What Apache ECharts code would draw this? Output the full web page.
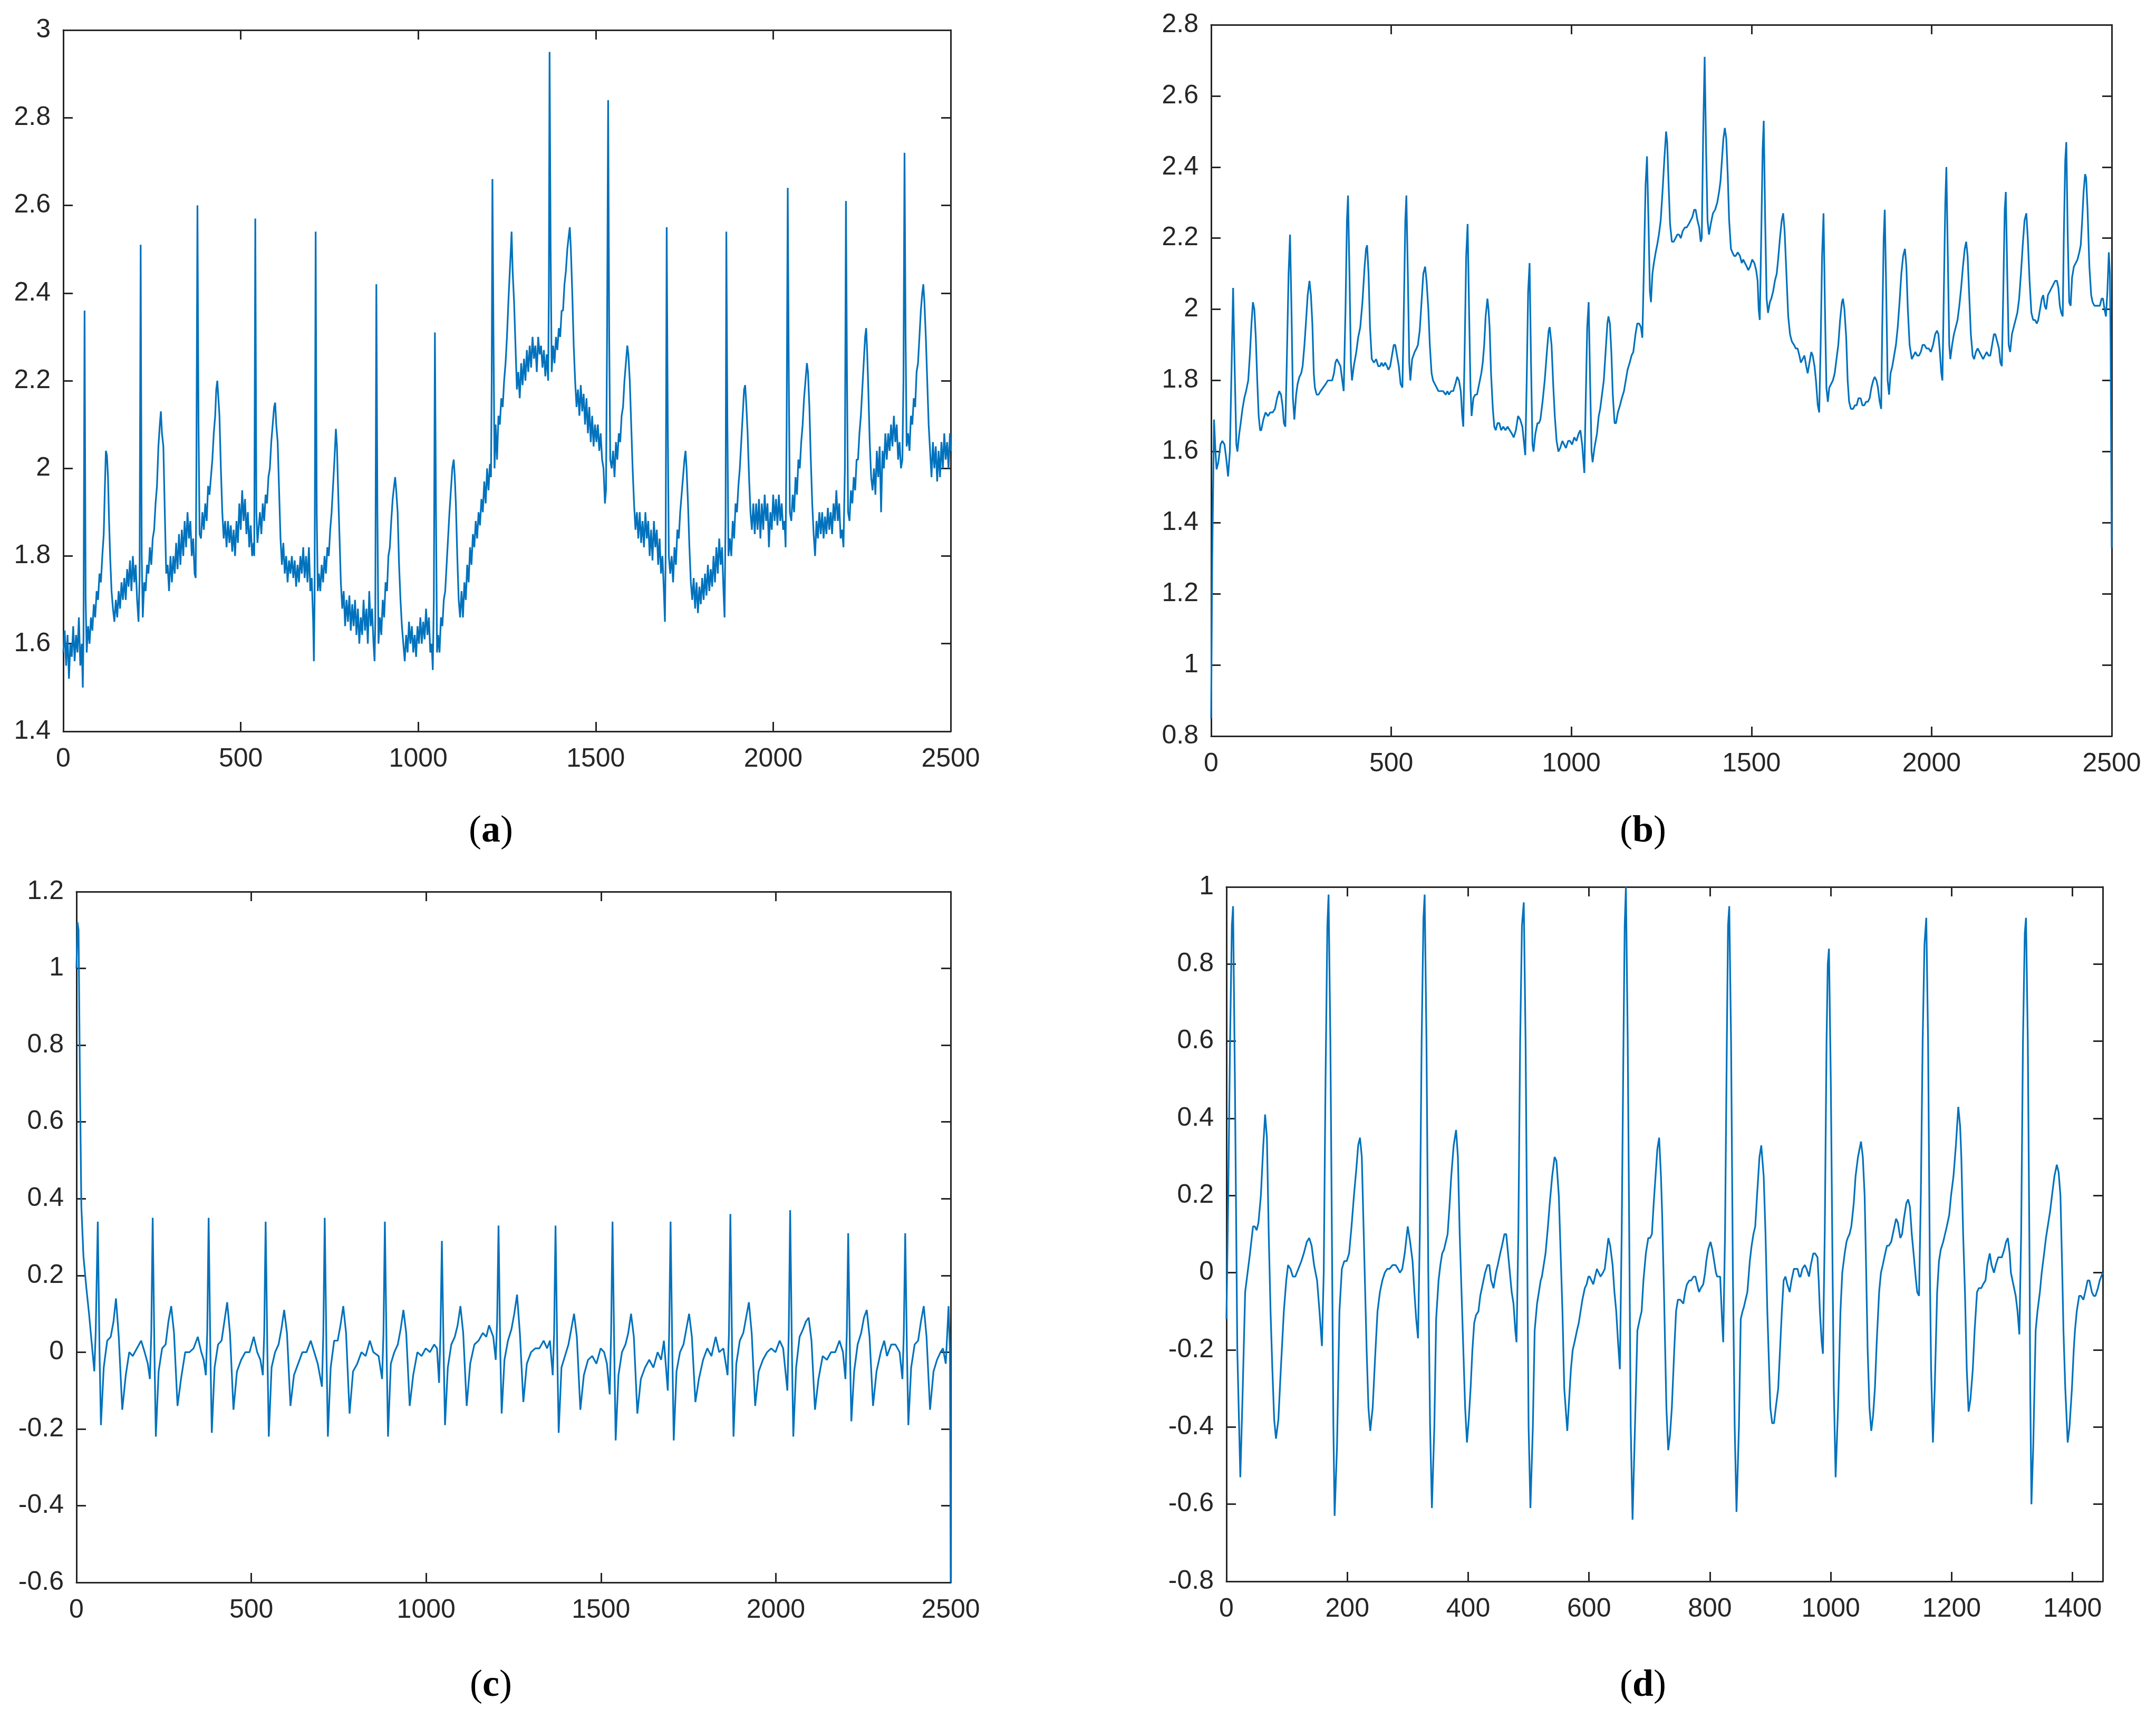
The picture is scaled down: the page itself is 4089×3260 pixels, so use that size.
<!DOCTYPE html>
<html><head><meta charset="utf-8">
<script src="https://cdn.jsdelivr.net/npm/echarts@6/dist/echarts.min.js"></script>
<style>html,body{margin:0;padding:0;background:#fff}#c{width:4089px;height:3260px}</style>
</head><body><div id="c"></div>
<script>
// ---- Data ----
// Panel (a): raw noisy signal [sample, value]
const SERIES_A = [[0,1.58],[4,1.63],[8,1.55],[12,1.62],[16,1.52],[20,1.6],[24,1.57],[28,1.64],[32,1.56],[36,1.62],[40,1.58],[44,1.66],[48,1.55],[52,1.6],[55,1.5],[57,1.62],[60,2.36],[63,1.7],[66,1.58],[70,1.64],[74,1.6],[78,1.66],[82,1.63],[86,1.69],[90,1.66],[94,1.72],[98,1.7],[102,1.76],[106,1.74],[110,1.8],[114,1.85],[117,1.95],[120,2.04],[123,2.03],[126,1.98],[129,1.88],[132,1.8],[136,1.72],[140,1.68],[144,1.65],[148,1.7],[152,1.66],[156,1.72],[160,1.68],[164,1.74],[168,1.7],[172,1.75],[176,1.7],[180,1.77],[184,1.73],[188,1.79],[192,1.72],[196,1.8],[200,1.74],[204,1.78],[208,1.7],[212,1.65],[215,1.75],[218,2.51],[221,1.8],[224,1.66],[228,1.74],[232,1.72],[236,1.78],[240,1.76],[244,1.82],[248,1.78],[252,1.84],[256,1.86],[260,1.92],[264,1.96],[268,2.05],[272,2.1],[275,2.13],[278,2.08],[282,2.05],[286,1.9],[290,1.76],[294,1.78],[298,1.72],[302,1.8],[306,1.74],[310,1.8],[314,1.76],[318,1.83],[322,1.77],[326,1.85],[330,1.78],[334,1.86],[338,1.8],[342,1.88],[346,1.82],[350,1.9],[354,1.84],[358,1.88],[362,1.8],[366,1.84],[370,1.76],[373,1.75],[375,2.0],[378,2.6],[381,2.1],[384,1.85],[388,1.84],[392,1.9],[396,1.86],[400,1.92],[404,1.88],[408,1.96],[412,1.94],[416,1.98],[420,2.02],[424,2.08],[428,2.12],[431,2.18],[434,2.2],[437,2.16],[440,2.12],[444,2.0],[448,1.9],[452,1.84],[456,1.88],[460,1.82],[464,1.88],[468,1.83],[472,1.87],[476,1.81],[480,1.86],[484,1.8],[488,1.88],[492,1.83],[496,1.92],[500,1.86],[504,1.95],[508,1.88],[512,1.93],[516,1.85],[520,1.9],[524,1.82],[528,1.87],[532,1.8],[536,1.83],[538,1.8],[541,2.57],[544,1.9],[547,1.83],[550,1.86],[554,1.9],[558,1.85],[562,1.92],[566,1.88],[570,1.94],[574,1.92],[578,1.98],[582,2.0],[586,2.06],[590,2.1],[594,2.14],[597,2.15],[600,2.1],[604,2.06],[608,1.95],[612,1.84],[616,1.78],[620,1.83],[624,1.76],[628,1.8],[632,1.74],[636,1.79],[640,1.76],[644,1.8],[648,1.75],[652,1.79],[656,1.73],[660,1.78],[664,1.74],[668,1.8],[672,1.76],[676,1.82],[680,1.75],[684,1.8],[688,1.74],[692,1.82],[696,1.72],[700,1.75],[704,1.65],[706,1.56],[708,1.7],[711,2.54],[714,1.9],[717,1.72],[720,1.76],[724,1.72],[728,1.78],[732,1.74],[736,1.8],[740,1.76],[744,1.82],[748,1.8],[752,1.86],[756,1.9],[760,1.96],[764,2.02],[768,2.09],[771,2.05],[774,1.96],[778,1.85],[782,1.74],[786,1.68],[790,1.72],[794,1.64],[798,1.7],[802,1.65],[806,1.71],[810,1.63],[814,1.69],[818,1.64],[822,1.7],[826,1.62],[830,1.68],[834,1.6],[838,1.66],[842,1.62],[846,1.7],[850,1.63],[854,1.68],[858,1.6],[862,1.72],[866,1.64],[870,1.68],[874,1.6],[877,1.56],[879,1.65],[882,2.42],[885,1.9],[888,1.6],[892,1.66],[896,1.62],[900,1.7],[904,1.66],[908,1.74],[912,1.72],[916,1.8],[920,1.82],[924,1.88],[928,1.93],[932,1.96],[935,1.98],[938,1.95],[942,1.9],[946,1.78],[950,1.7],[954,1.64],[958,1.6],[962,1.56],[966,1.62],[970,1.58],[974,1.65],[978,1.6],[982,1.64],[986,1.58],[990,1.62],[994,1.57],[998,1.64],[1002,1.6],[1006,1.66],[1010,1.6],[1014,1.65],[1018,1.61],[1022,1.68],[1026,1.62],[1030,1.66],[1034,1.58],[1038,1.6],[1041,1.54],[1044,1.7],[1047,2.31],[1050,1.9],[1053,1.58],[1056,1.62],[1060,1.58],[1064,1.66],[1068,1.64],[1072,1.7],[1076,1.72],[1080,1.78],[1084,1.84],[1088,1.9],[1092,1.95],[1096,2.0],[1100,2.02],[1103,1.98],[1106,1.92],[1110,1.8],[1114,1.7],[1118,1.66],[1122,1.72],[1126,1.66],[1130,1.74],[1134,1.7],[1138,1.78],[1142,1.74],[1146,1.82],[1150,1.78],[1154,1.85],[1158,1.82],[1162,1.88],[1166,1.84],[1170,1.9],[1174,1.87],[1178,1.93],[1182,1.9],[1186,1.97],[1190,1.92],[1194,2.0],[1198,1.95],[1202,2.01],[1205,1.98],[1207,2.2],[1209,2.66],[1212,2.3],[1215,2.0],[1218,2.1],[1222,2.02],[1226,2.12],[1230,2.1],[1234,2.16],[1238,2.14],[1242,2.2],[1246,2.24],[1250,2.3],[1254,2.38],[1258,2.45],[1261,2.5],[1263,2.54],[1266,2.45],[1270,2.38],[1274,2.28],[1278,2.18],[1282,2.22],[1286,2.16],[1290,2.24],[1294,2.19],[1298,2.25],[1302,2.2],[1306,2.27],[1310,2.22],[1314,2.28],[1318,2.23],[1322,2.3],[1326,2.25],[1330,2.28],[1334,2.22],[1338,2.3],[1342,2.26],[1346,2.28],[1350,2.23],[1354,2.27],[1358,2.21],[1362,2.26],[1366,2.2],[1368,2.4],[1370,2.95],[1373,2.5],[1376,2.22],[1380,2.28],[1384,2.24],[1388,2.3],[1392,2.27],[1396,2.32],[1400,2.3],[1404,2.36],[1408,2.36],[1412,2.42],[1416,2.45],[1420,2.5],[1424,2.53],[1427,2.55],[1430,2.5],[1434,2.4],[1438,2.28],[1442,2.2],[1446,2.14],[1450,2.18],[1454,2.12],[1458,2.19],[1462,2.13],[1466,2.17],[1470,2.1],[1474,2.16],[1478,2.08],[1482,2.14],[1486,2.06],[1490,2.12],[1494,2.05],[1498,2.1],[1502,2.06],[1506,2.1],[1510,2.04],[1514,2.08],[1518,2.02],[1522,2.0],[1526,1.92],[1529,1.95],[1532,2.3],[1535,2.84],[1538,2.3],[1541,2.02],[1545,2.0],[1549,2.04],[1553,1.98],[1557,2.06],[1561,2.02],[1565,2.08],[1569,2.06],[1573,2.12],[1577,2.14],[1581,2.2],[1585,2.24],[1589,2.28],[1592,2.26],[1596,2.2],[1600,2.1],[1604,2.0],[1608,1.92],[1612,1.86],[1616,1.9],[1620,1.84],[1624,1.9],[1628,1.83],[1632,1.88],[1636,1.82],[1640,1.9],[1644,1.84],[1648,1.88],[1652,1.8],[1656,1.86],[1660,1.79],[1664,1.88],[1668,1.82],[1672,1.86],[1676,1.78],[1680,1.84],[1684,1.76],[1688,1.8],[1692,1.72],[1695,1.65],[1697,1.8],[1700,2.55],[1703,2.1],[1706,1.8],[1710,1.76],[1714,1.8],[1718,1.74],[1722,1.82],[1726,1.78],[1730,1.86],[1734,1.84],[1738,1.9],[1742,1.94],[1746,1.98],[1750,2.02],[1753,2.04],[1756,2.0],[1760,1.92],[1764,1.82],[1768,1.74],[1772,1.7],[1776,1.75],[1780,1.68],[1784,1.74],[1788,1.67],[1792,1.73],[1796,1.69],[1800,1.75],[1804,1.7],[1808,1.76],[1812,1.71],[1816,1.78],[1820,1.72],[1824,1.77],[1828,1.73],[1832,1.8],[1836,1.74],[1840,1.82],[1844,1.76],[1848,1.84],[1852,1.78],[1856,1.82],[1860,1.72],[1863,1.66],[1866,1.9],[1868,2.54],[1871,2.1],[1874,1.8],[1878,1.84],[1882,1.8],[1886,1.88],[1890,1.84],[1894,1.92],[1898,1.9],[1902,1.96],[1906,2.0],[1910,2.06],[1914,2.12],[1918,2.18],[1921,2.19],[1924,2.15],[1928,2.08],[1932,1.98],[1936,1.9],[1940,1.86],[1944,1.92],[1948,1.85],[1952,1.92],[1956,1.86],[1960,1.93],[1964,1.84],[1968,1.92],[1972,1.86],[1976,1.94],[1980,1.88],[1984,1.92],[1988,1.82],[1992,1.9],[1996,1.86],[2000,1.94],[2004,1.88],[2008,1.93],[2012,1.87],[2016,1.94],[2020,1.88],[2024,1.92],[2028,1.86],[2032,1.88],[2035,1.82],[2038,2.1],[2041,2.64],[2044,2.2],[2047,1.9],[2051,1.88],[2055,1.94],[2059,1.9],[2063,1.98],[2067,1.94],[2071,2.02],[2075,2.0],[2079,2.06],[2083,2.1],[2087,2.16],[2091,2.2],[2095,2.24],[2098,2.22],[2102,2.14],[2106,2.02],[2110,1.92],[2114,1.85],[2118,1.8],[2122,1.88],[2126,1.84],[2130,1.9],[2134,1.85],[2138,1.9],[2142,1.84],[2146,1.89],[2150,1.85],[2154,1.91],[2158,1.86],[2162,1.9],[2166,1.85],[2170,1.92],[2174,1.88],[2178,1.95],[2182,1.88],[2186,1.92],[2190,1.84],[2194,1.86],[2198,1.82],[2202,2.0],[2205,2.61],[2208,2.2],[2211,1.9],[2215,1.88],[2219,1.95],[2223,1.92],[2227,1.98],[2231,1.95],[2235,2.02],[2239,2.02],[2243,2.08],[2247,2.12],[2251,2.18],[2255,2.24],[2259,2.3],[2262,2.32],[2265,2.26],[2268,2.18],[2272,2.06],[2276,1.98],[2280,1.95],[2284,2.0],[2288,1.94],[2292,2.04],[2296,1.98],[2300,2.05],[2304,1.9],[2308,2.04],[2312,2.0],[2316,2.08],[2320,2.02],[2324,2.08],[2328,2.04],[2332,2.1],[2336,2.05],[2340,2.12],[2344,2.06],[2348,2.1],[2352,2.02],[2356,2.06],[2360,2.0],[2364,2.02],[2367,2.2],[2370,2.72],[2373,2.3],[2376,2.05],[2380,2.08],[2384,2.04],[2388,2.12],[2392,2.1],[2396,2.16],[2400,2.14],[2404,2.22],[2408,2.24],[2412,2.3],[2416,2.36],[2420,2.4],[2423,2.42],[2426,2.38],[2430,2.3],[2434,2.2],[2438,2.1],[2442,2.04],[2446,1.98],[2450,2.06],[2454,2.0],[2458,2.05],[2462,1.97],[2466,2.04],[2470,1.98],[2474,2.06],[2478,2.0],[2482,2.08],[2486,2.02],[2490,2.06],[2494,2.0],[2498,2.08],[2500,2.04]];

// Panel (b): filtered signal
const SERIES_B = [[0,0.85],[3,1.3],[8,1.69],[12,1.6],[15,1.55],[20,1.57],[26,1.62],[31,1.63],[37,1.62],[42,1.58],[47,1.53],[52,1.6],[57,1.85],[61,2.06],[65,1.85],[70,1.62],[73,1.6],[78,1.65],[82,1.68],[87,1.72],[92,1.75],[97,1.77],[103,1.8],[108,1.88],[112,1.96],[116,2.02],[120,2.0],[124,1.92],[128,1.8],[132,1.7],[136,1.66],[139,1.66],[145,1.69],[151,1.71],[158,1.7],[164,1.71],[171,1.71],[177,1.72],[183,1.75],[189,1.77],[194,1.76],[198,1.73],[202,1.68],[206,1.67],[210,1.85],[215,2.1],[219,2.21],[223,2.0],[227,1.75],[231,1.69],[236,1.76],[240,1.79],[245,1.81],[250,1.82],[254,1.84],[259,1.9],[263,1.96],[268,2.04],[273,2.08],[277,2.04],[281,1.96],[285,1.82],[288,1.78],[293,1.76],[298,1.76],[304,1.77],[311,1.78],[318,1.79],[324,1.8],[330,1.8],[336,1.8],[341,1.82],[345,1.85],[349,1.86],[354,1.85],[359,1.84],[364,1.8],[368,1.77],[373,2.0],[377,2.25],[380,2.32],[384,2.1],[388,1.85],[391,1.8],[396,1.84],[403,1.88],[408,1.92],[414,1.95],[420,2.02],[426,2.12],[430,2.17],[433,2.18],[437,2.1],[441,1.95],[446,1.86],[452,1.85],[458,1.86],[464,1.84],[469,1.84],[473,1.85],[478,1.84],[483,1.85],[488,1.84],[492,1.83],[497,1.84],[502,1.87],[507,1.9],[511,1.9],[516,1.87],[521,1.84],[526,1.79],[531,1.78],[535,2.0],[539,2.25],[542,2.32],[546,2.1],[550,1.85],[553,1.8],[558,1.86],[565,1.88],[570,1.89],[574,1.9],[579,1.94],[584,2.02],[589,2.1],[594,2.12],[598,2.08],[603,2.0],[607,1.9],[612,1.82],[616,1.8],[621,1.79],[626,1.78],[631,1.77],[637,1.77],[644,1.77],[651,1.76],[656,1.77],[660,1.76],[666,1.77],[672,1.77],[678,1.79],[683,1.81],[688,1.8],[693,1.77],[697,1.7],[700,1.67],[704,1.9],[708,2.15],[712,2.24],[716,2.0],[720,1.78],[723,1.7],[728,1.75],[733,1.76],[738,1.76],[742,1.78],[746,1.8],[750,1.82],[754,1.85],[758,1.9],[762,1.98],[767,2.03],[770,2.0],[773,1.95],[777,1.82],[782,1.72],[786,1.67],[790,1.66],[795,1.68],[800,1.68],[805,1.66],[811,1.67],[817,1.66],[823,1.67],[829,1.66],[835,1.65],[840,1.64],[846,1.66],[852,1.7],[858,1.69],[864,1.67],[868,1.63],[872,1.59],[876,1.8],[880,2.05],[884,2.13],[888,1.85],[892,1.62],[895,1.6],[900,1.65],[906,1.68],[910,1.68],[914,1.69],[920,1.74],[926,1.8],[932,1.88],[937,1.94],[940,1.95],[945,1.9],[950,1.78],[954,1.7],[959,1.63],[964,1.6],[969,1.61],[975,1.63],[980,1.62],[985,1.61],[991,1.63],[996,1.63],[1002,1.62],[1008,1.64],[1014,1.63],[1020,1.65],[1025,1.66],[1030,1.62],[1033,1.58],[1036,1.54],[1040,1.75],[1044,1.95],[1048,2.02],[1052,1.8],[1056,1.6],[1059,1.57],[1064,1.61],[1071,1.65],[1076,1.7],[1080,1.72],[1085,1.76],[1090,1.8],[1095,1.88],[1100,1.96],[1103,1.98],[1107,1.96],[1111,1.88],[1115,1.76],[1120,1.68],[1124,1.68],[1129,1.71],[1135,1.73],[1140,1.75],[1146,1.77],[1151,1.8],[1156,1.83],[1162,1.85],[1167,1.87],[1172,1.88],[1178,1.93],[1183,1.96],[1188,1.96],[1193,1.95],[1197,1.92],[1201,2.1],[1206,2.35],[1210,2.43],[1214,2.25],[1218,2.05],[1221,2.02],[1225,2.1],[1229,2.13],[1234,2.16],[1238,2.18],[1243,2.21],[1248,2.25],[1253,2.33],[1258,2.42],[1263,2.5],[1266,2.47],[1270,2.35],[1274,2.24],[1279,2.19],[1284,2.19],[1289,2.2],[1294,2.21],[1299,2.21],[1304,2.2],[1309,2.22],[1315,2.23],[1320,2.23],[1326,2.24],[1331,2.25],[1336,2.26],[1341,2.28],[1345,2.28],[1350,2.25],[1355,2.23],[1359,2.19],[1362,2.2],[1366,2.5],[1370,2.71],[1374,2.45],[1378,2.25],[1382,2.21],[1387,2.24],[1393,2.27],[1399,2.28],[1405,2.3],[1410,2.33],[1414,2.36],[1418,2.42],[1422,2.48],[1426,2.51],[1430,2.48],[1434,2.38],[1438,2.25],[1443,2.17],[1447,2.16],[1452,2.15],[1456,2.15],[1462,2.16],[1468,2.15],[1473,2.13],[1477,2.14],[1482,2.13],[1487,2.12],[1491,2.11],[1496,2.12],[1502,2.14],[1508,2.13],[1513,2.11],[1517,2.08],[1520,2.0],[1523,1.97],[1527,2.2],[1531,2.45],[1534,2.53],[1538,2.25],[1542,2.03],[1546,1.99],[1551,2.02],[1555,2.03],[1560,2.05],[1565,2.08],[1570,2.1],[1574,2.14],[1579,2.2],[1584,2.25],[1588,2.27],[1592,2.22],[1597,2.1],[1602,1.98],[1607,1.93],[1612,1.91],[1618,1.9],[1623,1.89],[1628,1.89],[1633,1.87],[1637,1.85],[1642,1.86],[1647,1.87],[1652,1.84],[1656,1.82],[1661,1.85],[1666,1.88],[1670,1.87],[1675,1.84],[1679,1.8],[1684,1.73],[1688,1.71],[1692,1.9],[1696,2.15],[1700,2.27],[1704,2.0],[1708,1.78],[1712,1.74],[1716,1.78],[1721,1.79],[1726,1.8],[1731,1.82],[1736,1.86],[1741,1.9],[1746,1.97],[1751,2.02],[1754,2.03],[1758,2.0],[1763,1.92],[1767,1.8],[1771,1.74],[1776,1.72],[1782,1.72],[1787,1.73],[1792,1.73],[1797,1.75],[1803,1.75],[1808,1.73],[1813,1.73],[1818,1.74],[1823,1.74],[1828,1.75],[1833,1.78],[1838,1.8],[1842,1.81],[1847,1.8],[1851,1.78],[1856,1.74],[1860,1.72],[1863,1.95],[1867,2.2],[1870,2.28],[1874,2.05],[1878,1.8],[1882,1.76],[1886,1.82],[1891,1.84],[1896,1.87],[1901,1.9],[1906,1.95],[1911,2.02],[1916,2.1],[1921,2.15],[1926,2.17],[1930,2.12],[1934,2.0],[1939,1.9],[1945,1.86],[1950,1.87],[1955,1.88],[1960,1.87],[1965,1.87],[1970,1.88],[1975,1.9],[1980,1.9],[1986,1.89],[1992,1.89],[1998,1.88],[2004,1.9],[2010,1.93],[2015,1.94],[2019,1.93],[2023,1.88],[2027,1.82],[2030,1.8],[2034,2.05],[2038,2.3],[2041,2.4],[2045,2.15],[2049,1.9],[2052,1.86],[2057,1.9],[2062,1.93],[2067,1.95],[2072,1.97],[2077,2.01],[2082,2.06],[2087,2.12],[2092,2.17],[2096,2.19],[2100,2.15],[2104,2.05],[2109,1.93],[2114,1.87],[2118,1.86],[2123,1.88],[2128,1.89],[2133,1.88],[2138,1.87],[2143,1.86],[2148,1.87],[2153,1.88],[2158,1.87],[2163,1.87],[2168,1.9],[2173,1.93],[2177,1.93],[2182,1.91],[2187,1.89],[2191,1.85],[2195,1.84],[2199,2.05],[2203,2.28],[2206,2.33],[2210,2.1],[2214,1.9],[2218,1.88],[2223,1.93],[2228,1.95],[2233,1.97],[2238,1.99],[2243,2.03],[2248,2.1],[2253,2.18],[2258,2.25],[2263,2.27],[2267,2.2],[2272,2.08],[2277,1.99],[2282,1.97],[2287,1.97],[2292,1.96],[2296,1.97],[2301,2.0],[2306,2.03],[2310,2.04],[2314,2.01],[2318,2.0],[2323,2.04],[2328,2.05],[2333,2.06],[2338,2.07],[2343,2.08],[2348,2.08],[2352,2.06],[2356,2.01],[2360,1.99],[2364,1.98],[2367,2.2],[2371,2.42],[2374,2.47],[2378,2.2],[2382,2.02],[2386,2.01],[2390,2.09],[2395,2.12],[2400,2.13],[2405,2.14],[2410,2.16],[2414,2.18],[2418,2.25],[2422,2.33],[2426,2.38],[2429,2.37],[2433,2.28],[2438,2.12],[2443,2.04],[2447,2.02],[2452,2.01],[2457,2.01],[2462,2.01],[2467,2.01],[2472,2.03],[2476,2.03],[2480,2.0],[2484,1.98],[2488,2.05],[2492,2.16],[2495,2.1],[2497,1.9],[2500,1.33]];

// Panel (c): baseline-removed signal
const SERIES_C = [[0,1.0],[3,1.12],[6,1.1],[10,0.7],[14,0.38],[20,0.25],[28,0.17],[36,0.1],[44,0.02],[51,-0.05],[55,0.05],[61,0.34],[66,0.0],[70,-0.19],[78,-0.04],[88,0.03],[98,0.04],[106,0.08],[113,0.14],[121,0.04],[131,-0.15],[141,-0.06],[151,0.0],[161,-0.01],[173,0.01],[185,0.03],[195,0.0],[204,-0.03],[210,-0.07],[214,0.05],[218,0.35],[223,0.0],[227,-0.22],[235,-0.05],[245,0.01],[255,0.02],[263,0.08],[271,0.12],[279,0.05],[289,-0.14],[299,-0.07],[311,0.0],[323,0.0],[335,0.01],[347,0.04],[357,0.0],[364,-0.02],[370,-0.06],[374,0.05],[378,0.35],[383,0.0],[387,-0.21],[395,-0.04],[405,0.02],[415,0.03],[423,0.08],[431,0.13],[439,0.05],[449,-0.15],[459,-0.05],[471,-0.02],[483,0.0],[495,0.0],[507,0.04],[517,0.0],[526,-0.02],[533,-0.06],[537,0.05],[541,0.34],[546,0.0],[550,-0.22],[558,-0.04],[568,0.0],[578,0.02],[586,0.06],[594,0.11],[602,0.05],[612,-0.14],[622,-0.06],[634,-0.03],[646,0.0],[658,0.0],[670,0.03],[680,0.0],[690,-0.03],[702,-0.09],[706,0.05],[710,0.35],[715,0.0],[719,-0.22],[727,-0.04],[737,0.03],[747,0.03],[755,0.07],[763,0.12],[771,0.05],[781,-0.16],[791,-0.05],[803,-0.03],[815,0.0],[827,-0.01],[839,0.03],[849,0.0],[864,-0.01],[874,-0.07],[878,0.05],[882,0.34],[887,0.0],[891,-0.22],[899,-0.03],[909,0.0],[919,0.02],[927,0.06],[935,0.11],[943,0.05],[953,-0.14],[963,-0.06],[975,0.0],[987,-0.01],[999,0.01],[1011,0.0],[1023,0.02],[1031,0.01],[1037,-0.08],[1041,0.05],[1045,0.29],[1050,0.0],[1054,-0.19],[1062,-0.04],[1072,0.02],[1082,0.04],[1090,0.07],[1098,0.12],[1106,0.05],[1116,-0.14],[1126,-0.03],[1138,0.02],[1150,0.03],[1162,0.05],[1172,0.04],[1180,0.07],[1192,0.04],[1199,-0.02],[1203,0.08],[1207,0.33],[1212,0.0],[1216,-0.16],[1224,-0.02],[1234,0.03],[1244,0.06],[1252,0.1],[1260,0.15],[1268,0.05],[1278,-0.13],[1288,-0.03],[1300,0.0],[1312,0.01],[1324,0.01],[1336,0.03],[1346,0.01],[1354,0.03],[1362,-0.06],[1366,0.05],[1370,0.33],[1375,0.0],[1379,-0.21],[1387,-0.04],[1397,-0.01],[1407,0.02],[1415,0.06],[1423,0.1],[1431,0.04],[1441,-0.15],[1451,-0.06],[1463,-0.02],[1475,-0.01],[1487,-0.03],[1499,0.01],[1509,0.0],[1517,-0.03],[1525,-0.11],[1529,0.05],[1533,0.34],[1538,0.0],[1542,-0.23],[1550,-0.06],[1560,0.0],[1570,0.02],[1578,0.05],[1586,0.1],[1594,0.04],[1604,-0.16],[1614,-0.07],[1626,-0.04],[1638,-0.02],[1650,-0.04],[1662,0.0],[1672,-0.02],[1680,0.03],[1691,-0.1],[1695,0.05],[1699,0.34],[1704,0.0],[1708,-0.23],[1716,-0.05],[1726,0.0],[1736,0.02],[1744,0.06],[1752,0.1],[1760,0.04],[1770,-0.13],[1780,-0.07],[1792,-0.02],[1804,0.01],[1816,-0.01],[1828,0.04],[1838,0.0],[1850,0.01],[1862,-0.06],[1866,0.05],[1870,0.36],[1875,0.0],[1879,-0.22],[1887,-0.03],[1897,0.03],[1907,0.05],[1915,0.09],[1923,0.13],[1931,0.05],[1941,-0.14],[1951,-0.05],[1963,-0.02],[1975,0.0],[1987,0.01],[1999,0.0],[2011,0.03],[2021,0.01],[2033,-0.1],[2037,0.05],[2041,0.37],[2046,0.0],[2050,-0.22],[2058,-0.04],[2068,0.04],[2078,0.06],[2086,0.08],[2094,0.09],[2102,0.03],[2112,-0.15],[2122,-0.07],[2134,-0.01],[2146,-0.02],[2158,0.0],[2170,0.0],[2182,0.03],[2192,0.0],[2199,-0.07],[2203,0.05],[2207,0.31],[2212,0.0],[2216,-0.18],[2224,-0.05],[2234,0.02],[2244,0.05],[2252,0.09],[2260,0.11],[2268,0.04],[2278,-0.14],[2288,-0.05],[2300,0.0],[2310,0.03],[2318,-0.01],[2330,0.02],[2342,0.02],[2354,0.0],[2362,-0.07],[2366,0.05],[2370,0.31],[2375,0.0],[2379,-0.19],[2387,-0.04],[2397,0.02],[2407,0.03],[2415,0.08],[2423,0.12],[2431,0.04],[2441,-0.15],[2451,-0.05],[2461,-0.02],[2471,0.0],[2478,0.01],[2486,-0.03],[2494,0.12],[2498,0.0],[2500,-0.6]];

// Panel (d): normalised segment
const SERIES_D = [[0,-0.12],[3,0.2],[6,0.6],[9,0.9],[11,0.95],[14,0.5],[18,-0.2],[23,-0.53],[27,-0.3],[31,-0.05],[35,0.0],[39,0.05],[44,0.12],[47,0.12],[50,0.11],[53,0.13],[57,0.2],[61,0.33],[64,0.41],[67,0.35],[70,0.1],[73,-0.1],[76,-0.25],[79,-0.38],[82,-0.43],[86,-0.38],[90,-0.25],[95,-0.1],[99,-0.02],[102,0.02],[106,0.01],[110,-0.01],[114,-0.01],[119,0.01],[124,0.03],[128,0.05],[133,0.08],[137,0.09],[141,0.07],[145,0.02],[150,-0.02],[154,-0.1],[158,-0.19],[161,0.0],[164,0.5],[167,0.9],[169,0.98],[172,0.6],[175,0.0],[177,-0.4],[179,-0.63],[183,-0.45],[187,-0.1],[191,0.01],[195,0.03],[199,0.03],[203,0.05],[207,0.12],[211,0.2],[215,0.27],[218,0.33],[221,0.35],[224,0.3],[228,0.05],[232,-0.2],[235,-0.35],[238,-0.41],[242,-0.35],[246,-0.22],[250,-0.1],[254,-0.05],[258,-0.02],[262,0.0],[266,0.01],[270,0.01],[275,0.02],[280,0.02],[284,0.01],[287,0.0],[291,0.01],[295,0.05],[300,0.12],[304,0.08],[308,0.03],[311,-0.05],[314,-0.12],[317,-0.17],[320,0.1],[323,0.6],[326,0.92],[328,0.98],[331,0.6],[334,0.0],[337,-0.4],[340,-0.61],[344,-0.4],[347,-0.12],[351,-0.02],[354,0.02],[357,0.05],[360,0.06],[363,0.08],[366,0.1],[369,0.17],[372,0.25],[376,0.33],[380,0.37],[383,0.3],[386,0.1],[389,-0.05],[392,-0.2],[395,-0.35],[398,-0.44],[401,-0.38],[404,-0.3],[407,-0.2],[410,-0.13],[413,-0.11],[417,-0.1],[420,-0.06],[424,-0.03],[428,0.0],[432,0.02],[435,0.02],[438,-0.02],[442,-0.04],[446,0.0],[449,0.02],[453,0.05],[456,0.07],[460,0.1],[463,0.1],[466,0.05],[469,0.0],[472,-0.05],[475,-0.08],[478,-0.15],[480,-0.18],[483,0.1],[486,0.6],[489,0.9],[492,0.96],[495,0.6],[498,0.0],[500,-0.4],[503,-0.61],[507,-0.4],[510,-0.15],[514,-0.08],[517,-0.05],[520,-0.02],[522,-0.01],[525,0.02],[528,0.05],[532,0.12],[535,0.18],[539,0.25],[543,0.3],[546,0.29],[550,0.2],[553,0.05],[556,-0.1],[559,-0.3],[564,-0.41],[567,-0.33],[570,-0.25],[573,-0.2],[576,-0.18],[580,-0.15],[583,-0.13],[586,-0.1],[589,-0.07],[593,-0.04],[596,-0.03],[599,-0.01],[601,-0.01],[604,-0.02],[607,-0.03],[610,-0.01],[613,0.01],[616,0.0],[619,-0.01],[623,0.0],[626,0.01],[629,0.05],[632,0.09],[635,0.07],[639,0.02],[642,-0.05],[645,-0.1],[648,-0.18],[651,-0.25],[654,0.1],[657,0.6],[659,0.9],[661,1.0],[664,0.6],[667,0.0],[669,-0.4],[672,-0.64],[676,-0.4],[680,-0.15],[684,-0.12],[687,-0.1],[690,-0.02],[694,0.05],[698,0.09],[701,0.09],[704,0.1],[707,0.18],[710,0.25],[713,0.32],[716,0.35],[719,0.25],[721,0.15],[724,-0.05],[726,-0.2],[728,-0.35],[731,-0.46],[734,-0.42],[737,-0.35],[741,-0.2],[744,-0.1],[747,-0.07],[751,-0.07],[756,-0.08],[759,-0.05],[762,-0.03],[766,-0.02],[769,-0.02],[773,-0.01],[776,-0.01],[779,-0.03],[782,-0.05],[785,-0.04],[789,-0.03],[792,0.0],[794,0.03],[797,0.06],[801,0.08],[804,0.06],[807,0.03],[810,0.0],[812,-0.01],[815,-0.01],[817,-0.01],[820,-0.12],[822,-0.18],[825,0.1],[828,0.6],[830,0.9],[832,0.95],[835,0.6],[838,0.0],[841,-0.4],[844,-0.62],[848,-0.4],[851,-0.12],[854,-0.1],[856,-0.09],[859,-0.07],[862,-0.05],[866,0.03],[869,0.07],[872,0.1],[875,0.12],[878,0.2],[882,0.3],[885,0.33],[889,0.25],[892,0.1],[895,-0.1],[898,-0.25],[900,-0.35],[903,-0.39],[906,-0.39],[909,-0.35],[913,-0.3],[916,-0.2],[919,-0.1],[922,-0.02],[925,-0.01],[928,-0.03],[932,-0.05],[935,-0.02],[939,0.01],[942,0.01],[945,0.01],[948,-0.01],[950,-0.01],[953,0.01],[957,0.02],[960,0.01],[964,-0.01],[967,0.02],[971,0.05],[974,0.05],[978,0.04],[980,-0.02],[982,-0.1],[985,-0.18],[987,-0.21],[990,0.1],[993,0.6],[995,0.8],[997,0.84],[1000,0.5],[1003,0.0],[1005,-0.3],[1008,-0.53],[1012,-0.35],[1016,-0.1],[1019,0.0],[1023,0.05],[1026,0.08],[1028,0.09],[1031,0.1],[1034,0.12],[1038,0.18],[1041,0.25],[1045,0.3],[1050,0.34],[1053,0.3],[1056,0.2],[1058,0.05],[1061,-0.2],[1064,-0.35],[1067,-0.41],[1070,-0.37],[1073,-0.3],[1076,-0.18],[1080,-0.05],[1083,0.0],[1086,0.02],[1090,0.05],[1093,0.07],[1096,0.07],[1100,0.08],[1104,0.11],[1108,0.14],[1111,0.13],[1115,0.09],[1118,0.1],[1121,0.14],[1125,0.18],[1128,0.19],[1131,0.17],[1134,0.1],[1137,0.05],[1141,-0.02],[1143,-0.05],[1146,-0.06],[1149,0.2],[1152,0.6],[1155,0.85],[1158,0.92],[1161,0.6],[1164,0.0],[1166,-0.25],[1169,-0.44],[1172,-0.3],[1176,-0.05],[1179,0.03],[1182,0.06],[1186,0.08],[1189,0.1],[1192,0.12],[1196,0.15],[1199,0.2],[1203,0.25],[1207,0.33],[1211,0.43],[1214,0.38],[1216,0.3],[1219,0.1],[1222,-0.05],[1225,-0.25],[1228,-0.36],[1231,-0.33],[1235,-0.25],[1238,-0.15],[1242,-0.05],[1245,-0.04],[1249,-0.04],[1252,-0.03],[1256,-0.02],[1259,0.02],[1263,0.05],[1266,0.02],[1270,0.0],[1273,0.02],[1277,0.04],[1280,0.04],[1283,0.04],[1287,0.06],[1290,0.08],[1293,0.09],[1296,0.05],[1298,0.0],[1302,-0.03],[1306,-0.06],[1309,-0.1],[1312,-0.16],[1315,0.1],[1318,0.6],[1321,0.88],[1323,0.92],[1326,0.6],[1329,0.0],[1330,-0.3],[1332,-0.6],[1335,-0.45],[1339,-0.15],[1342,-0.1],[1346,-0.05],[1349,0.0],[1353,0.05],[1356,0.09],[1359,0.12],[1363,0.16],[1366,0.2],[1370,0.25],[1374,0.28],[1377,0.26],[1380,0.2],[1383,0.0],[1385,-0.15],[1388,-0.3],[1392,-0.44],[1395,-0.4],[1399,-0.3],[1402,-0.2],[1404,-0.15],[1407,-0.1],[1411,-0.06],[1414,-0.06],[1418,-0.07],[1421,-0.05],[1425,-0.02],[1428,-0.02],[1432,-0.05],[1435,-0.06],[1438,-0.06],[1442,-0.04],[1445,-0.02],[1450,0.0]];

// Axis ranges and tick steps: [min, max, interval]
const X_AXIS_A = [0, 2500, 500], Y_AXIS_A = [1.4, 3, 0.2];
const X_AXIS_B = [0, 2500, 500], Y_AXIS_B = [0.8, 2.8, 0.2];
const X_AXIS_C = [0, 2500, 500], Y_AXIS_C = [-0.6, 1.2, 0.2];
const X_AXIS_D = [0, 1450, 200], Y_AXIS_D = [-0.8, 1, 0.2];
const PANEL_LETTERS = ['a', 'b', 'c', 'd'];

// ---- Layout ----
const LAYOUT = [
  {grid:{left:120, top:57, width:1683, height:1330}, lx:931, ly:1577},
  {grid:{left:2297, top:47, width:1708, height:1349}, lx:3116, ly:1577},
  {grid:{left:145, top:1691, width:1658, height:1310}, lx:931, ly:3197},
  {grid:{left:2326, top:1682, width:1662, height:1317}, lx:3116, ly:3197}
];
const PANELS = [
  {x:X_AXIS_A, y:Y_AXIS_A, data:SERIES_A},
  {x:X_AXIS_B, y:Y_AXIS_B, data:SERIES_B},
  {x:X_AXIS_C, y:Y_AXIS_C, data:SERIES_C},
  {x:X_AXIS_D, y:Y_AXIS_D, data:SERIES_D}
];

const INK = '#262626', LINE = '#0072BD';
const tickStyle = {show:true, inside:true, length:18, lineStyle:{color:INK, width:3}};
const lineStyleAxis = {show:true, onZero:false, lineStyle:{color:INK, width:3}};
const labelFont = {fontFamily:'Liberation Sans', fontSize:50, color:INK};
const plain = v => String(Math.round(v * 1000) / 1000);

const grids = [], xAxes = [], yAxes = [], series = [], graphics = [];
PANELS.forEach((p, i) => {
  const L = LAYOUT[i];
  grids.push(Object.assign({containLabel:false, show:false}, L.grid));
  const xBase = {type:'value', gridIndex:i, min:p.x[0], max:p.x[1], interval:p.x[2],
    splitLine:{show:false}, axisLine:lineStyleAxis, axisTick:tickStyle};
  const yBase = {type:'value', gridIndex:i, min:p.y[0], max:p.y[1], interval:p.y[2],
    splitLine:{show:false}, axisLine:lineStyleAxis, axisTick:tickStyle};
  xAxes.push(Object.assign({}, xBase, {position:'bottom',
    axisLabel:Object.assign({margin:28, formatter:plain, showMaxLabel: p.x[1] % p.x[2] === 0}, labelFont)}));
  xAxes.push(Object.assign({}, xBase, {position:'top', axisLabel:{show:false}}));
  yAxes.push(Object.assign({}, yBase, {position:'left',
    axisLabel:Object.assign({margin:24, formatter:plain}, labelFont)}));
  yAxes.push(Object.assign({}, yBase, {position:'right', axisLabel:{show:false}}));
  series.push({type:'line', xAxisIndex:2*i, yAxisIndex:2*i, data:p.data,
    showSymbol:false, symbol:'none', sampling:null, animation:false,
    lineStyle:{color:LINE, width:3.2}, clip:true});
  graphics.push({type:'text', x:L.lx, y:L.ly, style:{
    text:'{p|(}{b|' + PANEL_LETTERS[i] + '}{p|)}',
    align:'center', verticalAlign:'middle',
    rich:{
      p:{fontFamily:'Liberation Serif', fontSize:72, fill:'#000'},
      b:{fontFamily:'Liberation Serif', fontSize:72, fontWeight:'bold', fill:'#000'}
    }}});
});

const chart = echarts.init(document.getElementById('c'), null, {renderer:'canvas', width:4089, height:3260});
chart.setOption({
  animation:false,
  backgroundColor:'#ffffff',
  grid:grids, xAxis:xAxes, yAxis:yAxes, series:series, graphic:graphics
});
</script></body></html>
